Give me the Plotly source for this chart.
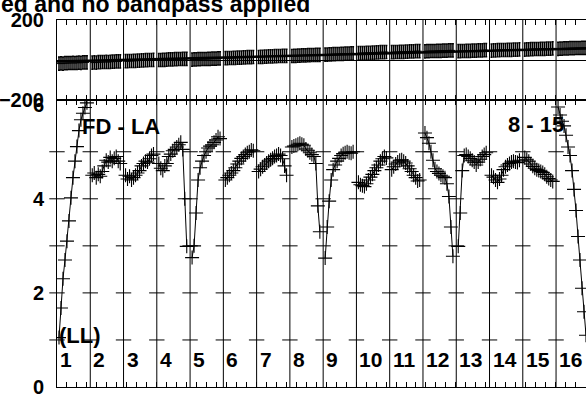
import plotly.graph_objects as go

# ---------------- data ----------------
scan_labels = ["1", "2", "3", "4", "5", "6", "7", "8", "9", "10",
               "11", "12", "13", "14", "15", "16"]
scan_starts = [0, 1, 2, 3, 4, 5, 6, 7, 8, 9, 10, 11, 12, 13, 14, 15]
sample_offsets = [0.06, 0.12, 0.18, 0.24, 0.30, 0.36, 0.42, 0.48,
                  0.54, 0.60, 0.66, 0.72, 0.78, 0.84, 0.90]

amp_scans = [
    [1.05, 1.68, 2.30, 2.70, 3.10, 3.53, 4.02, 4.45, 4.80, 5.11, 5.45, 5.68, 5.82, 5.94, 6.04],
    [4.50, 4.55, 4.45, 4.52, 4.48, 4.58, 4.70, 4.82, 4.78, 4.88, 4.80, 4.86, 4.90, 4.80, 4.75],
    [4.50, 4.42, 4.48, 4.40, 4.45, 4.50, 4.55, 4.60, 4.70, 4.75, 4.80, 4.78, 4.85, 4.92, 4.95],
    [4.75, 4.65, 4.60, 4.70, 4.75, 4.90, 4.95, 5.02, 5.05, 5.10, 5.15, 5.20, 5.05, 4.00, 2.99],
    [2.75, 3.00, 3.70, 4.40, 4.66, 4.80, 4.92, 5.00, 5.08, 5.12, 5.15, 5.20, 5.25, 5.32, 5.28],
    [4.40, 4.45, 4.50, 4.55, 4.60, 4.66, 4.74, 4.80, 4.86, 4.90, 4.94, 4.98, 5.00, 5.04, 5.02],
    [4.58, 4.63, 4.68, 4.72, 4.76, 4.80, 4.83, 4.86, 4.90, 4.92, 4.95, 4.92, 4.85, 4.70, 4.50],
    [5.10, 5.12, 5.14, 5.16, 5.18, 5.16, 5.14, 5.06, 5.02, 4.98, 4.94, 4.90, 4.75, 3.85, 3.30],
    [2.74, 3.40, 3.95, 4.40, 4.62, 4.72, 4.80, 4.86, 4.92, 4.96, 4.98, 5.00, 4.98, 4.97, 5.00],
    [4.35, 4.30, 4.28, 4.26, 4.32, 4.40, 4.46, 4.52, 4.60, 4.66, 4.72, 4.80, 4.85, 4.90, 4.87],
    [4.62, 4.68, 4.74, 4.78, 4.82, 4.83, 4.80, 4.76, 4.70, 4.64, 4.58, 4.50, 4.45, 4.38, 4.40],
    [5.40, 5.30, 5.18, 5.00, 4.82, 4.64, 4.58, 4.54, 4.50, 4.48, 4.45, 4.32, 4.05, 3.40, 2.78],
    [2.99, 3.70, 4.60, 4.92, 4.94, 4.90, 4.86, 4.82, 4.78, 4.72, 4.78, 4.84, 4.90, 4.94, 4.98],
    [4.50, 4.46, 4.40, 4.35, 4.42, 4.50, 4.62, 4.68, 4.72, 4.75, 4.78, 4.80, 4.78, 4.77, 4.82],
    [4.88, 4.84, 4.80, 4.74, 4.69, 4.65, 4.62, 4.60, 4.58, 4.56, 4.52, 4.47, 4.43, 4.40, 4.37],
    [5.95, 5.78, 5.65, 5.55, 5.35, 5.10, 4.92, 4.60, 4.20, 3.75, 3.20, 2.70, 2.10, 1.60, 1.10],
]

phase_scans = [
    [-18, -17, -18, -16, -16, -15, -15, -14, -15, -14, -13, -14, -12, -12, -12],
    [-13, -12, -13, -11, -11, -10, -10, -9, -10, -9, -8, -8, -7, -7, -7],
    [-6, -6, -5, -5, -4, -4, -3, -3, -2, -2, -1, -1, 0, 0, 1],
    [0, 0, 1, 1, 2, 3, 3, 3, 4, 4, 5, 5, 6, 6, 6],
    [2, 3, 3, 4, 4, 5, 5, 5, 6, 6, 7, 7, 7, 8, 8],
    [9, 9, 10, 10, 11, 11, 12, 12, 12, 13, 13, 14, 14, 14, 15],
    [15, 16, 16, 17, 17, 18, 18, 18, 19, 19, 20, 20, 21, 21, 21],
    [20, 21, 21, 22, 22, 23, 23, 23, 24, 24, 25, 25, 26, 26, 26],
    [27, 27, 28, 28, 29, 29, 30, 30, 31, 31, 32, 32, 32, 33, 33],
    [34, 34, 35, 35, 36, 36, 36, 37, 37, 38, 38, 39, 39, 39, 40],
    [39, 39, 40, 40, 41, 41, 41, 42, 42, 43, 43, 43, 44, 44, 44],
    [43, 44, 44, 45, 45, 45, 46, 46, 46, 47, 47, 47, 48, 48, 48],
    [44, 44, 45, 45, 46, 46, 46, 47, 47, 47, 48, 48, 48, 49, 49],
    [47, 48, 48, 49, 49, 50, 50, 50, 51, 51, 51, 52, 52, 52, 53],
    [52, 53, 53, 54, 54, 55, 55, 55, 56, 56, 56, 57, 57, 57, 58],
    [56, 57, 57, 58, 58, 58, 59, 59, 59, 60, 60, 60, 61, 61, 61],
]
phase_err = [33, 33, 33, 33, 33, 33, 33, 33, 33, 33, 33, 33, 33, 33, 33, 33]

model_phase_t = [0.0, 15.9]
model_phase = [-8, 58]

amp_tick_levels = [1, 2, 3, 4, 5]
amp_label_ticks = [0, 2, 4, 6]
phase_label_ticks = [-200, 200]

baseline_text = "FD - LA"
stokes_text = "(LL)"
channel_text = "8 - 15"
title_text = "ed and no bandpass applied"

# ---------------- build traces ----------------
FONT = "Liberation Sans"
fig = go.Figure()

amp_x, amp_y, ph_x, ph_y, ph_e = [], [], [], [], []
for s, start in enumerate(scan_starts):
    for i, off in enumerate(sample_offsets):
        t = start + off
        amp_x.append(t)
        amp_y.append(amp_scans[s][i])
        ph_x.append(t)
        ph_y.append(phase_scans[s][i])
        ph_e.append(phase_err[s])
    amp_x.append(None)
    amp_y.append(None)

# amplitude: line through points + plus markers
fig.add_trace(go.Scatter(
    x=amp_x, y=amp_y, mode="lines+markers", xaxis="x", yaxis="y",
    line=dict(color="black", width=1),
    marker=dict(symbol="cross-thin", size=10, color="black",
                line=dict(width=1.1, color="black")),
    connectgaps=False, hoverinfo="skip"))

# phase points with error bars
fig.add_trace(go.Scatter(
    x=ph_x, y=ph_y, mode="markers", xaxis="x2", yaxis="y2",
    marker=dict(symbol="line-ew", size=3, color="black",
                line=dict(width=1, color="black")),
    error_y=dict(type="data", array=ph_e, visible=True,
                 color="black", thickness=1.5, width=1),
    hoverinfo="skip"))

# phase model line
fig.add_trace(go.Scatter(
    x=model_phase_t, y=model_phase, mode="lines", xaxis="x2", yaxis="y2",
    line=dict(color="black", width=2.5), hoverinfo="skip"))

# cross ticks on every scan separator in amplitude panel
tx, ty = [], []
for start in scan_starts:
    for lv in amp_tick_levels:
        tx.append(start)
        ty.append(lv)
fig.add_trace(go.Scatter(
    x=tx, y=ty, mode="markers", xaxis="x", yaxis="y",
    marker=dict(symbol="line-ew", size=11, color="black",
                line=dict(width=1, color="black")),
    cliponaxis=False, hoverinfo="skip"))

# scan separator lines
for start in scan_starts[1:]:
    fig.add_shape(type="line", xref="x", yref="paper",
                  x0=start, x1=start, y0=0, y1=1,
                  line=dict(color="black", width=1))

# ---------------- annotations ----------------
bold = dict(family=FONT, size=21, color="black", weight="bold")
ann = []
for lab, start in zip(scan_labels, scan_starts):
    ann.append(dict(x=start, y=0.585, xref="x", yref="y", text=lab,
                    showarrow=False, xanchor="left", yanchor="middle",
                    xshift=1, font=bold))
ann.append(dict(x=0, y=1.085, xref="x", yref="y", text=stokes_text,
                showarrow=False, xanchor="left", yanchor="middle",
                font=dict(family=FONT, size=22, color="black", weight="bold")))
ann.append(dict(x=1.93, y=5.53, xref="x", yref="y", text=baseline_text,
                showarrow=False, xanchor="center", yanchor="middle",
                font=dict(family=FONT, size=22, color="black", weight="bold")))
ann.append(dict(x=14.4, y=5.57, xref="x", yref="y", text=channel_text,
                showarrow=False, xanchor="center", yanchor="middle",
                font=dict(family=FONT, size=22, color="black", weight="bold")))
ann.append(dict(x=-0.1096, y=1.0436, xref="paper", yref="paper",
                text=title_text, showarrow=False, xanchor="left",
                yanchor="middle",
                font=dict(family=FONT, size=23, color="black", weight="bold")))

xcommon = dict(range=[0, 15.9], showgrid=False, zeroline=False,
               showline=True, linecolor="black", linewidth=1,
               mirror="ticks", ticks="inside", ticklen=5,
               tickcolor="black", tickwidth=1, tick0=0.29, dtick=0.3,
               showticklabels=False, automargin=False)
tickfont = dict(family=FONT, size=20, color="black", weight="bold")

fig.update_layout(
    width=586, height=395,
    margin=dict(l=57, r=0, t=20, b=8, autoexpand=False),
    paper_bgcolor="white", plot_bgcolor="white",
    showlegend=False,
    xaxis=dict(domain=[0, 1], anchor="y", **xcommon),
    xaxis2=dict(domain=[0, 1], anchor="y2", matches="x", **xcommon),
    yaxis=dict(domain=[0, 0.782], range=[0, 6.1], tickvals=amp_label_ticks,
               ticks="", showgrid=False, zeroline=False, showline=True,
               linecolor="black", linewidth=1, tickfont=tickfont,
               ticklabelstandoff=8, automargin=False,
               ticklabeloverflow="allow"),
    yaxis2=dict(domain=[0.782, 1], range=[-200, 200],
                tickvals=phase_label_ticks, ticks="", showgrid=False,
                zeroline=True, zerolinecolor="black", zerolinewidth=1,
                showline=True, linecolor="black", linewidth=1,
                tickfont=tickfont, ticklabelstandoff=8, automargin=False,
                ticklabeloverflow="allow"),
    annotations=ann,
)

fig.write_html("out.html",
               config={"displayModeBar": False, "staticPlot": True},
               post_script="document.body.style.margin='0px';document.body.style.overflow='hidden';")
